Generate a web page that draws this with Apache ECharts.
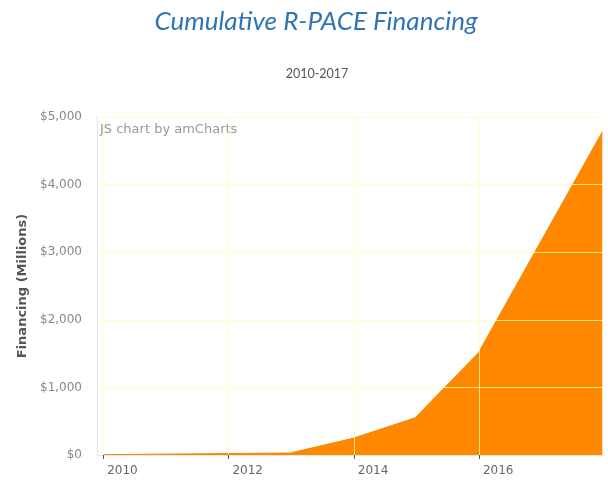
<!DOCTYPE html>
<html>
<head>
<meta charset="utf-8">
<script src="https://cdn.jsdelivr.net/npm/echarts@6/dist/echarts.min.js"></script>
<style>
html,body{margin:0;padding:0;background:#fff;}
#c{width:608px;height:481px;}
</style>
</head>
<body>
<div id="c"></div>
<script>
// Data (cumulative financing, $ millions)
var dates = ['2010-01-01', '2012-12-28', '2014-01-01', '2014-12-25', '2015-12-28', '2017-12-20'];
var financing = [5, 30, 250, 550, 1510, 4780];
var xTickYears = [2010, 2012, 2014, 2016, 2018];
var yTicks = [0, 1000, 2000, 3000, 4000, 5000];

var titleText = 'Cumulative R-PACE Financing';
var subtitleText = '2010-2017';
var yAxisTitle = 'Financing (Millions)';

var chart = echarts.init(document.getElementById('c'), null, {renderer: 'canvas'});
function ts(s) { return Date.parse(s + 'T00:00:00Z'); }
var tickTimes = xTickYears.map(function (y) { return Date.UTC(y, 0, 1); });
var seriesData = dates.map(function (d, i) { return [ts(d), financing[i]]; });
var gridColor = 'rgba(255,255,180,0.75)';

chart.setOption({
  animation: false,
  backgroundColor: '#ffffff',
  textStyle: {fontFamily: 'DejaVu Sans'},
  title: [
    {text: titleText, left: 311, top: 4, textAlign: 'center',
     textStyle: {fontFamily: 'Lato', fontStyle: 'italic', fontWeight: 'normal', fontSize: 26, color: '#2f74b5'}},
    {text: subtitleText, left: 312, top: 62, textAlign: 'center',
     textStyle: {fontFamily: 'Lato', fontWeight: 'normal', fontSize: 12.5, color: '#555'}}
  ],
  graphic: [
    {type: 'text', left: 100, top: 123, style: {text: 'JS chart by amCharts', fontFamily: 'DejaVu Sans', fontSize: 13, fill: '#999'}}
  ],
  grid: {left: 97, right: 4, top: 117, bottom: 26, containLabel: false},
  xAxis: {
    type: 'value',
    min: ts('2009-11-26'),
    max: ts('2017-12-30'),
    z: 5,
    axisLine: {show: true, lineStyle: {color: '#e6e6e6', width: 1}},
    axisTick: {show: true, length: 4, customValues: tickTimes, lineStyle: {color: '#555'}},
    axisLabel: {
      customValues: tickTimes.slice(0, 4),
      fontFamily: 'DejaVu Sans', fontSize: 12, color: '#666', align: 'left', padding: [0, 0, 0, 4], margin: 10,
      formatter: function (v) { return String(new Date(v).getUTCFullYear()); }
    },
    splitLine: {show: true, lineStyle: {color: gridColor, width: 1}}
  },
  yAxis: {
    type: 'value',
    min: 0, max: 5000, interval: 1000,
    z: 5,
    name: yAxisTitle,
    nameLocation: 'middle',
    nameGap: 68,
    nameRotate: 90,
    nameTextStyle: {fontFamily: 'DejaVu Sans', fontWeight: 'bold', fontSize: 13, color: '#555'},
    axisLine: {show: true, lineStyle: {color: '#e3e3e3', width: 1}},
    axisTick: {show: false},
    axisLabel: {
      fontFamily: 'DejaVu Sans', fontSize: 12, color: '#888', margin: 15,
      formatter: function (v) { return '$' + v.toLocaleString('en-US'); }
    },
    splitLine: {show: true, lineStyle: {color: gridColor, width: 1}}
  },
  series: [{
    type: 'line',
    data: seriesData,
    showSymbol: false,
    symbol: 'none',
    z: 2,
    lineStyle: {color: '#f08a00', width: 1},
    areaStyle: {color: '#ff8800', opacity: 1}
  }]
});
</script>
</body>
</html>
